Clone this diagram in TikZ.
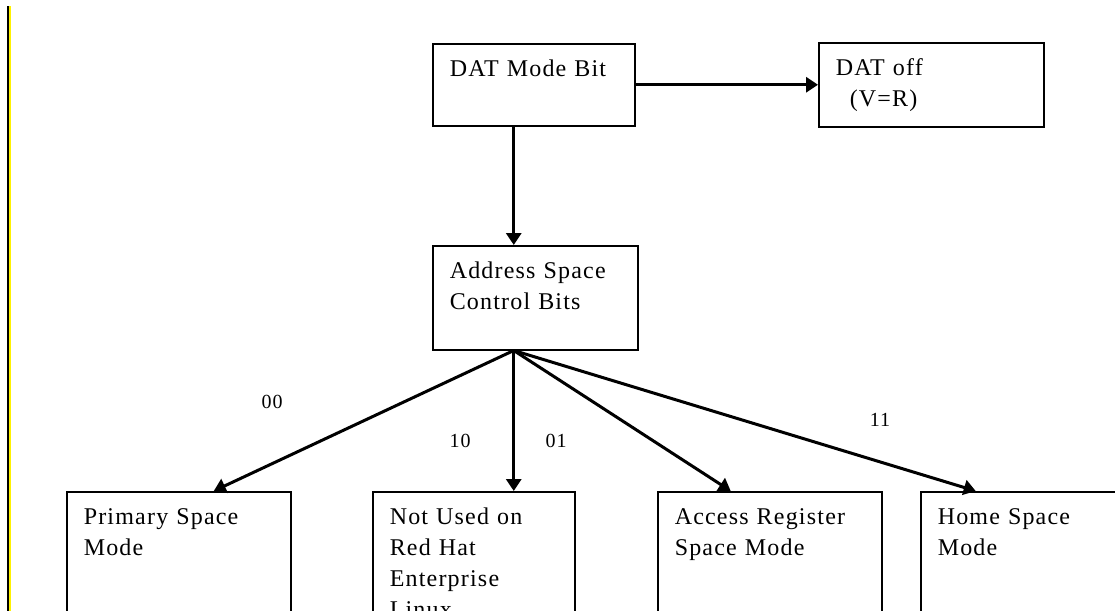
\documentclass[tikz,border=0pt]{standalone}
\usepackage{fontspec}
\setmainfont{Liberation Serif}[LetterSpace=5]
\usepackage{tikz}
\usetikzlibrary{arrows.meta}

\begin{document}
\begin{tikzpicture}[
  x=0.5pt, y=-0.5pt,
  box/.style ={draw,rectangle,anchor=north west,align=left,line width=0.75pt,
               inner xsep=8.5pt,inner ysep=0pt,text height=16.5pt,
               font=\fontsize{12pt}{15.5pt}\selectfont},
  arr/.style ={-{Triangle[length=6pt,width=7.5pt]},line width=1.5pt},
  bits/.style={font=\fontsize{10pt}{12pt}\selectfont,inner sep=0pt}
]
\useasboundingbox (0,0) rectangle (1115,611);
\clip (0,0) rectangle (1115,611);

%% Margin bar on the left
\fill[black]  (7,6) rectangle (9,611);
\fill[yellow] (9,6) rectangle (11,611);

%% Top row
\node[box,text width=84pt,  text depth=24.5pt] (datbit) at (432,43) {DAT Mode Bit};
\node[box,text width=95.5pt,text depth=25.5pt] (datoff) at (818,42) {DAT off\\\hspace*{7pt}(V=R)};

%% Middle box, arrows fan out from a point left of its centre
\node[box,text width=85.5pt,text depth=35.5pt] (ascb) at (432,245) {Address Space\\Control Bits};
\coordinate (hub) at ([xshift=-10.75pt]ascb.south);

%% Bottom row — runs off the page
\node[box,text width=95pt,text depth=63.5pt] (prim)    at (66,491)  {Primary Space\\Mode};
\node[box,text width=84pt,text depth=63.5pt] (notused) at (372,491) {Not Used on\\Red Hat\\Enterprise\\Linux};
\node[box,text width=95pt,text depth=63.5pt] (access)  at (657,491) {Access Register\\Space Mode};
\node[box,text width=88pt,text depth=63.5pt] (home)    at (920,491) {Home Space\\Mode};

%% Arrows
\draw[arr] (datbit.east) -- (datoff.west);
\draw[arr] (datbit.south -| hub) -- (ascb.north -| hub);
\draw[arr] (hub) -- ([xshift=17.5pt]prim.north);
\draw[arr] (hub) -- (notused.north -| hub);
\draw[arr] (hub) -- ([xshift=-19.5pt]access.north);
\draw[arr] (hub) -- ([xshift=-25pt]home.north);

%% Bit values
\node[bits] (b00) at (272,402) {00};
\node[bits] (b10) at (460,441) {10};
\node[bits] (b01) at (556,441) {01};
\node[bits] (b11) at (880,420) {11};
\end{tikzpicture}
\end{document}
